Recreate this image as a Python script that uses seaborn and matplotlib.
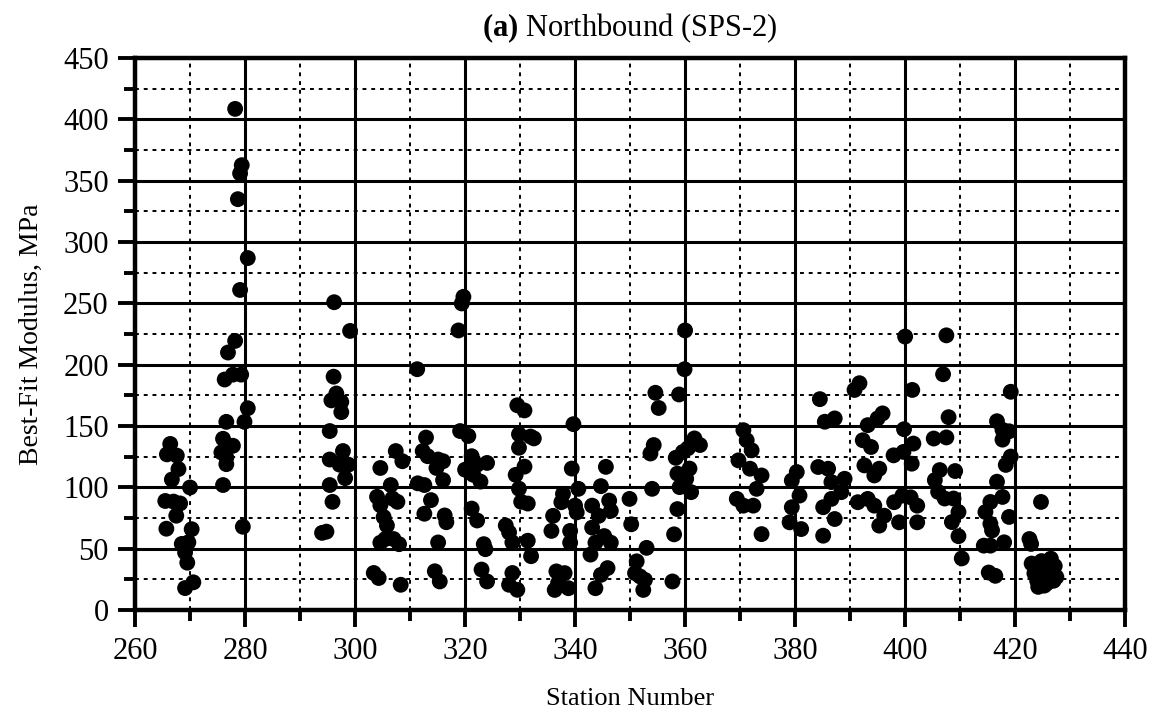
import matplotlib
matplotlib.use("Agg")
import matplotlib.pyplot as plt
import seaborn as sns
import pandas as pd
from matplotlib.ticker import MultipleLocator

# ---- data (station, modulus MPa) ----
station_a = [266.4, 265.8, 267.6, 267.9, 266.7, 270.0, 265.5, 267.0, 268.2, 267.5,
             265.7, 270.3, 268.5, 269.7, 269.1, 269.5, 269.1, 270.6,
             278.2, 279.4, 279.1, 278.7, 280.5, 279.1, 278.2, 276.9,
             276.3, 277.8, 279.3, 280.5, 276.6, 279.9, 276.0, 277.8, 275.7,
             276.6, 276.6, 276.0, 279.6]
modulus_a = [135.5, 127, 126, 115, 106.5, 100, 89, 88.5, 87, 77,
             66.4, 66, 54, 55.3, 47, 38.7, 18, 22.7,
             408.6, 362.7, 356, 335, 287, 261, 219.5, 210,
             188, 192, 192, 164.6, 153.5, 153.5, 139.7, 134, 128.6,
             124.5, 119, 102, 68]

station_b = [296.2, 299.1, 294.0, 294.8, 296.1, 296.6, 295.7, 297.5, 297.5, 295.4,
             311.3, 329.5, 330.8, 319.1, 320.6, 312.9, 312.3, 313.2, 315.1, 316.0,
             314.8, 316.0, 311.4, 312.6, 307.4, 308.6, 304.6, 297.8, 295.4, 297.2,
             298.8, 298.2, 306.5, 295.4, 295.9, 321.2, 322.2, 324.0, 320.0, 321.5,
             322.8, 329.8, 329.8, 330.8, 329.2, 329.8, 330.2, 331.4, 304.0, 304.6,
             306.8, 307.7, 305.2, 305.8, 305.5, 307.0, 304.6, 308.0, 313.8, 312.6,
             316.3, 316.6, 315.1, 321.2, 322.2, 327.4, 328.0, 328.6, 323.4, 323.7,
             331.4, 332.0, 303.4, 304.3, 308.3, 314.5, 315.4, 323.0, 324.0, 328.6,
             328.0, 329.5, 319.7, 319.4, 318.8]
modulus_b = [251, 227.6, 63, 64, 190.3, 176.6, 171, 169.7, 161.4, 146,
             196.4, 167, 162.8, 146, 142, 140.7, 129.7, 125.5, 122.8, 121.4,
             115.9, 106, 103.4, 102, 129.7, 121.4, 115.9, 129.7, 122.8, 118.6,
             118.6, 107.6, 102, 102, 88.3, 125.5, 118.6, 120, 114.5, 110.3,
             104.8, 143.4, 132.4, 117, 110.3, 99, 88.3, 86.9, 92.4, 85.5,
             91, 88.3, 75.9, 69, 58, 58, 55, 53.8, 89.7, 78.6,
             77.2, 71.7, 55.2, 82.8, 73.1, 69, 63.4, 55.2, 53.8, 49.7,
             56.6, 44, 30.3, 26.2, 20.7, 31.7, 23.4, 33.1, 23.4, 30.3,
             20.7, 16.6, 255.4, 250, 228]

station_c = [359.9, 354.6, 355.2, 358.9, 339.7, 331.9, 332.5, 361.7, 362.7, 360.5,
             359.6, 358.3, 358.6, 360.8, 360.2, 359.0, 361.1, 354.3, 353.7, 354.0,
             339.4, 345.6, 340.6, 344.7, 337.8, 337.5, 340.0, 340.3, 336.0, 335.7,
             339.1, 339.1, 343.1, 344.3, 343.1, 346.2, 346.5, 343.7, 345.3, 346.5,
             342.8, 349.9, 350.2, 358.6, 358.0, 353.0, 351.2, 350.9, 351.8, 352.7,
             352.4, 357.7, 336.6, 338.1, 336.9, 338.8, 336.3, 345.9, 344.7, 343.7,
             360.0]
modulus_c = [196.4, 177.2, 164.8, 175.8, 151.6, 141.5, 140, 140, 134.6, 131.9,
             129, 124.2, 111.3, 115.4, 107.1, 100.3, 96.2, 134.6, 127.7, 98.9,
             115.4, 116.8, 98.9, 101.1, 94.8, 88, 85.2, 79.7, 76.9, 64.6,
             64.6, 55, 85.2, 76.9, 67.3, 89.3, 81, 55, 60.4, 55,
             45.3, 90.7, 70, 82.4, 61.8, 50.8, 39.8, 30.2, 27.5, 24.7,
             16.5, 23.4, 31.6, 30.2, 22, 17.9, 16.5, 34.3, 28.8, 17.9,
             228]

station_d = [391.7, 390.8, 384.5, 401.3, 395.9, 395.0, 393.2, 387.2, 385.4, 399.8,
             370.6, 371.2, 372.1, 392.3, 393.8, 392.6, 395.3, 394.4, 397.9, 399.7,
             401.5, 401.2, 405.2, 369.7, 371.8, 373.9, 373.0, 380.3, 379.4, 380.8,
             379.4, 379.0, 381.1, 384.2, 386.0, 389.0, 386.6, 388.4, 386.6, 385.1,
             387.2, 385.1, 369.4, 370.6, 372.4, 373.9, 391.4, 393.2, 394.4, 395.3,
             396.2, 398.0, 399.5, 401.0, 402.2, 398.9, 402.2, 400.0]
modulus_d = [185, 179.5, 172, 179.5, 160.4, 156.3, 150.8, 156.3, 153.6, 147.5,
             146.7, 138.5, 130.3, 138.5, 133, 118, 115.3, 109.8, 126.2, 129,
             135.8, 119.4, 139.9, 122.1, 115.3, 109.8, 98.9, 112.6, 105.7, 93.4,
             83.9, 71.6, 66.1, 116.7, 115.3, 107.1, 104.4, 96.2, 90.7, 83.9,
             74.3, 60.7, 90.7, 85.2, 85.2, 62, 88, 90.7, 85.2, 68.9,
             77, 88, 93.4, 92, 85.2, 71.6, 71.6, 223]

station_e = [407.5, 406.9, 419.2, 407.9, 416.7, 417.7, 418.9, 417.7, 407.5, 419.2,
             418.3, 406.3, 409.1, 405.4, 406.0, 407.2, 408.8, 409.7, 408.5, 416.7,
             417.7, 415.5, 414.6, 415.5, 415.8, 418.9, 409.7, 414.3, 415.5, 418.0,
             410.3, 415.2, 416.4, 424.7, 422.6, 422.9,
             423.0, 423.5, 424.0, 424.3, 424.8, 425.0, 425.3, 425.6, 426.0, 426.2,
             426.5, 426.8, 427.0, 427.2, 427.5, 424.2, 425.8, 423.8, 426.4, 425.1]
modulus_e = [224, 192.3, 178, 157.3, 154, 147, 145.8, 139, 140.8, 125.2,
             118.4, 114.2, 113.4, 106, 96.4, 91, 91, 80, 71.8, 104.7,
             92.3, 88.2, 80, 70.4, 65, 76, 60.3, 52.6, 52.6, 55.3,
             42.2, 30.7, 28, 88.2, 58, 54,
             38, 30, 24, 35, 40, 28, 20, 33, 38, 26,
             42, 30, 24, 36, 27, 19, 22, 33, 28, 36]

stations = station_a + station_b + station_c + station_d + station_e
moduli = modulus_a + modulus_b + modulus_c + modulus_d + modulus_e
df = pd.DataFrame({"Station Number": stations, "Best-Fit Modulus, MPa": moduli})

sns.set_theme(style="white")
plt.rcParams["font.family"] = ["Liberation Serif", "DejaVu Serif"]
plt.rcParams["mathtext.fontset"] = "custom"
plt.rcParams["mathtext.bf"] = "Liberation Serif:bold"
plt.rcParams["mathtext.rm"] = "Liberation Serif"
plt.rcParams["text.color"] = "black"
plt.rcParams["axes.labelcolor"] = "black"

fig = plt.figure(figsize=(11.54, 7.17), dpi=100)
ax = fig.add_axes([0.117, 0.149, 0.858, 0.77])

sns.scatterplot(data=df, x="Station Number", y="Best-Fit Modulus, MPa", ax=ax,
                color="black", edgecolor="none", s=130, zorder=3, legend=False)

ax.set_xlim(260, 440)
ax.set_ylim(0, 450)
ax.xaxis.set_major_locator(MultipleLocator(20))
ax.xaxis.set_minor_locator(MultipleLocator(10))
ax.yaxis.set_major_locator(MultipleLocator(50))
ax.yaxis.set_minor_locator(MultipleLocator(25))
ax.grid(which="major", color="black", linestyle="-", linewidth=2.2, zorder=1)
ax.grid(which="minor", color="black", linestyle=(0, (2, 2.5)), linewidth=1.4, zorder=1)
ax.set_axisbelow(True)
for sp in ax.spines.values():
    sp.set_linewidth(3.2)
    sp.set_color("black")
ax.tick_params(which="major", direction="out", length=12, width=2.8, labelsize=22,
               colors="black", labelcolor="black", pad=7)
ax.tick_params(which="minor", direction="out", length=8, width=2.8, colors="black")
ax.tick_params(axis="both", which="both", bottom=True, left=True)

ax.set_xlabel("Station Number", fontsize=19, labelpad=16, color="black")
ax.set_ylabel("Best-Fit Modulus, MPa", fontsize=20, labelpad=14, color="black")
ax.set_title(r"$\mathbf{(a)}$ Northbound (SPS-2)", fontsize=22, pad=16, color="black")

fig.savefig("out.png", dpi=100, facecolor="white")
